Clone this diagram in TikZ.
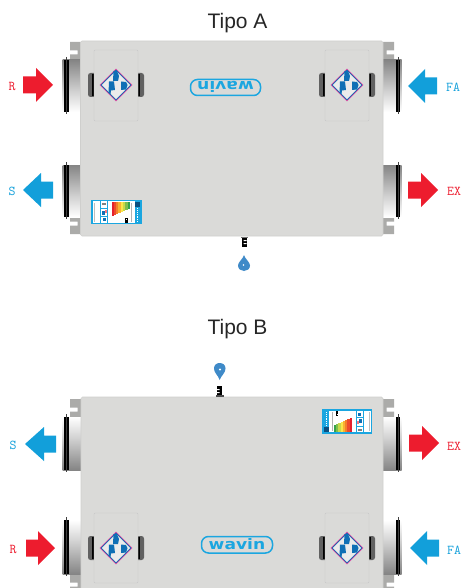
\documentclass[tikz,border=0pt]{standalone}
\usepackage{fontspec}
\setmainfont{Liberation Sans}
\newfontfamily\logofam{DejaVu Sans}
\definecolor{bodygrey}{HTML}{DADAD8}
\definecolor{bodyedge}{HTML}{CFCFCD}
\definecolor{flangegrey}{HTML}{ABABA9}
\definecolor{ductred}{HTML}{ED1C2E}
\definecolor{ductblue}{HTML}{129FDA}
\definecolor{logoblue}{HTML}{1BA6E0}
\definecolor{dropblue}{HTML}{3F8AC8}
\definecolor{valveblue}{HTML}{0F6FB5}
\definecolor{valvepink}{HTML}{D8409C}
\pgfdeclareverticalshading{darktop}{100bp}{color(0bp)=(black!18);color(25bp)=(white);color(45bp)=(black!18);color(75bp)=(black!48);color(100bp)=(black!62)}
\pgfdeclareverticalshading{darkbottom}{100bp}{color(0bp)=(black!62);color(25bp)=(black!48);color(55bp)=(black!18);color(75bp)=(white);color(100bp)=(black!18)}
\tikzset{
  x=1pt,y=-1pt,
  housing/.style={fill=bodygrey,draw=bodyedge,line width=.6pt,rounded corners=1.5pt},
  headline/.style={font=\fontsize{21}{24}\selectfont,text=black!85,inner sep=0pt},
  tagred/.style={font=\ttfamily\fontsize{13.5}{15}\selectfont,text=ductred,inner sep=0pt},
  tagblue/.style={font=\ttfamily\fontsize{13.5}{15}\selectfont,text=ductblue,inner sep=0pt},
  logobox/.style={draw=logoblue,line width=1.5pt,fill=bodygrey,rounded corners=7pt},
  logotext/.style={font=\logofam\bfseries\fontsize{14.5}{15}\selectfont,text=logoblue,inner sep=0pt,xscale=1.18},
  panel/.style={draw=black!22,line width=.4pt,fill=bodygrey,rounded corners=1pt},
  pill/.style={fill=black!62,rounded corners=2.5pt},
}
\newcommand{\blockarrow}[5]{\fill[#5] (#1,#4-8.5) -- (#2,#4-8.5) -- (#2,#4-17) -- (#3,#4) -- (#2,#4+17) -- (#2,#4+8.5) -- (#1,#4+8.5) -- cycle;}
\newcommand{\ductpipe}[5]{%
  \shade[shading=#5] (#1,#3) rectangle ({#1+#2*18.5},#4);
  \fill[black] ({#1+#2*12.5},#3) rectangle ({#1+#2*17},#4);
  \draw[black!75,line width=.8pt] ({#1+#2*15},#3-3) -- ({#1+#2*15},#4+2);
}
\newcommand{\flangeplate}[4]{%
  \fill[flangegrey] (#1,#3) -- ({#1+#2*11},#3) -- ({#1+#2*11},{#3+#4*8.5}) -- ({#1+#2*3.5},{#3+#4*8.5}) -- ({#1+#2*3.5},{#3+#4*12.5}) -- ({#1+#2*11},{#3+#4*12.5}) -- ({#1+#2*11},{#3+#4*18}) -- (#1,{#3+#4*18}) -- cycle;
}
\newcommand{\valveunit}[4]{%
  \fill[pill] (#1-28,#2-12) rectangle (#1+28,#2+12);
  \fill[black] (#1-24,#2-11) rectangle (#1+24,#2+11);
  \draw[panel] (#1-22,#3) rectangle (#1+22,#4);
  \fill[black!8] (#1,#2-16) -- (#1+16,#2) -- (#1,#2+16) -- (#1-16,#2) -- cycle;
  \draw[valveblue,line width=1pt] (#1,#2-15) -- (#1+15,#2) -- (#1,#2+15) -- (#1-15,#2) -- cycle;
  \draw[valvepink,line width=.6pt] (#1,#2-16) -- (#1+16,#2) -- (#1,#2+16) -- (#1-16,#2) -- cycle;
  \fill[valveblue] (#1-2.5,#2-14) -- (#1+1,#2-14) -- (#1+3,#2-9) -- (#1+2,#2-4) -- (#1-3,#2-4) -- cycle;
  \fill[valveblue] (#1-7,#2-3.5) -- (#1-2,#2-3.5) -- (#1-1,#2+5) -- (#1-5,#2+5.5) -- (#1-5.5,#2+9) -- (#1-7.5,#2+8) -- cycle;
  \fill[valveblue] (#1+5,#2-3.5) -- (#1+10,#2-3) -- (#1+11.5,#2) -- (#1+10,#2+4.5) -- (#1+5,#2+5) -- cycle;
}
\newcommand{\energylabel}[3]{%
  \begin{scope}[shift={(#1,#2)},rotate=#3]
    \fill[white] (-24.5,-11.5) rectangle (24.5,11.5);
    \draw[logoblue,line width=1.2pt] (-24.5,-11.5) rectangle (24.5,11.5);
    \draw[black!25,line width=.8pt] (-22.5,-9) -- (-22.5,10);
    \draw[logoblue,line width=.8pt] (-16.5,-11.5) rectangle (-9,11.5);
    \draw[logoblue,line width=.6pt] (-16.5,-4.5) -- (-9,-4.5) (-16.5,4) -- (-9,4);
    \fill[black!50] (-15,-9) rectangle (-10.5,-7);
    \fill[valveblue] (-15,-1) rectangle (-12,3);
    \fill[ductred!60] (-11.5,-2) rectangle (-10,1);
    \fill[valveblue] (-14,6) rectangle (-11,9);
    \fill[HTML=E5202E] (-5,-10) rectangle (-2.7,3.5);
    \fill[HTML=EE4A2B] (-2.7,-10) rectangle (-.4,2.5);
    \fill[HTML=F47F2A] (-.4,-10) rectangle (1.9,1.5);
    \fill[HTML=F9B233] (1.9,-10) rectangle (4.2,.5);
    \fill[HTML=FBE64B] (4.2,-10) rectangle (6.5,-.5);
    \fill[HTML=C9D84A] (6.5,-10) rectangle (8.8,-1.5);
    \fill[HTML=7FBF4D] (8.8,-10) rectangle (11,-2.5);
    \fill[HTML=35A24A] (11,-10) rectangle (13.2,-3.5);
    \fill[black] (8.7,6) rectangle (11.3,10.5);
    \fill[white] (9.5,7) rectangle (10.5,8);
    \draw[black!30,line width=.8pt] (15,-9) -- (15,10);
    \fill[logoblue] (18,-11) rectangle (24,11);
    \fill[valveblue!70!black] (18.5,-10.5) rectangle (23.5,-5);
    \draw[white,line width=.8pt,densely dotted] (21,-4) -- (21,10);
  \end{scope}
}
\tikzset{HTML/.code={\definecolor{tmpc}{HTML}{#1}\tikzset{color=tmpc}}}
\begin{document}
\begin{tikzpicture}
\useasboundingbox (0,0) rectangle (462,588);
% ---------- Tipo A ----------
\node[headline] (titleA) at (237.5,23) {Tipo A};
\flangeplate{81}{-1}{42}{1}
\flangeplate{383}{1}{42}{1}
\flangeplate{81}{-1}{234}{-1}
\flangeplate{383}{1}{234}{-1}
\ductpipe{81}{-1}{60}{112}{darktop}
\ductpipe{383}{1}{60}{112}{darktop}
\ductpipe{81}{-1}{165}{217}{darktop}
\ductpipe{383}{1}{165}{217}{darktop}
\draw[housing] (80.5,41) rectangle (383,236);
\valveunit{116}{85}{50}{121}
\valveunit{347}{85}{50}{121}
\draw[logobox] (190.5,79.5) rectangle (260.5,95.5);
\node[logotext,rotate=180] (logoA) at (225.5,86.5) {wavin};
\energylabel{116.5}{212.3}{0}
\fill[black] (241.5,237) rectangle (246.5,247);
\fill[black!55] (240.5,236.5) rectangle (247.5,238);
\fill[white] (243.5,240) rectangle (246.5,241) (243.5,243) rectangle (246.5,244);
\fill[dropblue] (244,255) .. controls (245,259) and (250,262) .. (250,265.5) .. controls (250,269) and (247,271) .. (244,271) .. controls (241,271) and (238,269) .. (238,265.5) .. controls (238,262) and (243,259) .. (244,255) -- cycle;
\fill[white] (243.4,265) circle (.9);
\blockarrow{23}{36}{53}{85}{ductred}
\blockarrow{437}{425}{408}{86}{ductblue}
\blockarrow{53}{41}{23}{190}{ductblue}
\blockarrow{408}{421}{438}{190}{ductred}
\node[tagred] (tagRa) at (12,86) {R};
\node[tagblue] (tagFAa) at (453,87) {FA};
\node[tagblue] (tagSa) at (12,191) {S};
\node[tagred] (tagEXa) at (454,191) {EX};
% ---------- Tipo B ----------
\node[headline] (titleB) at (237.5,329) {Tipo B};
\flangeplate{81}{-1}{399}{1}
\flangeplate{383}{1}{399}{1}
\flangeplate{81}{-1}{574}{1}
\flangeplate{383}{1}{574}{1}
\ductpipe{81}{-1}{417}{470}{darkbottom}
\ductpipe{383}{1}{417}{470}{darkbottom}
\ductpipe{81}{-1}{520}{574}{darkbottom}
\ductpipe{383}{1}{520}{574}{darkbottom}
\draw[housing] (81,397) rectangle (383,592);
\valveunit{116}{548}{513}{583}
\valveunit{347}{548}{513}{583}
\draw[logobox] (201.5,536.5) rectangle (272.5,553);
\node[logotext] (logoB) at (237,544) {wavin};
\energylabel{347}{421.5}{180}
\fill[black] (217,386) rectangle (222,396);
\fill[black!70] (216,395) rectangle (223.5,397);
\fill[white] (217,389) rectangle (219.5,390) (217,392) rectangle (219.5,393);
\fill[dropblue] (219.7,380) .. controls (218,375) and (214,373) .. (214,368.5) .. controls (214,365) and (216.5,363) .. (219.7,363) .. controls (223,363) and (225.5,365) .. (225.5,368.5) .. controls (225.5,373) and (221.5,375) .. (219.7,380) -- cycle;
\fill[white] (220,369.5) circle (1.1);
\blockarrow{56}{44}{25}{444}{ductblue}
\blockarrow{409}{422}{439}{443}{ductred}
\blockarrow{26}{38}{55}{548}{ductred}
\blockarrow{439}{427}{410}{548}{ductblue}
\node[tagblue] (tagSb) at (13,445) {S};
\node[tagred] (tagEXb) at (454,446) {EX};
\node[tagred] (tagRb) at (13,549) {R};
\node[tagblue] (tagFAb) at (454,550) {FA};
\end{tikzpicture}
\end{document}
